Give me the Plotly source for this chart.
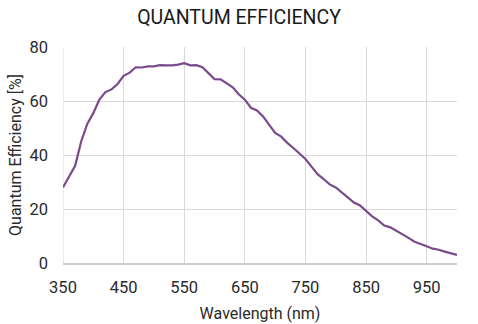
import plotly.graph_objects as go

wavelength = list(range(350, 1001, 10))
qe = [28.0, 32.0, 36.0, 45.0, 51.5, 55.5, 60.5, 63.3, 64.3, 66.3,
      69.3, 70.5, 72.5, 72.4, 72.8, 72.8, 73.3, 73.2, 73.2, 73.5,
      74.0, 73.2, 73.3, 72.5, 70.3, 68.1, 68.0, 66.5, 65.1, 62.5,
      60.5, 57.5, 56.5, 54.3, 51.2, 48.2, 46.8, 44.5, 42.6, 40.5,
      38.5, 35.7, 32.9, 31.1, 29.1, 28.0, 26.1, 24.4, 22.4, 21.3,
      19.3, 17.3, 15.8, 13.9, 13.2, 12.0, 10.7, 9.3, 7.9, 6.9,
      6.2, 5.3, 4.9, 4.2, 3.6, 3.0]
x_ticks = [350, 450, 550, 650, 750, 850, 950]
y_ticks = [0, 20, 40, 60, 80]

font_family = "Roboto, 'DejaVu Sans', sans-serif"
grid_color = "#d9d9d9"
text_color = "#2a2a2a"

fig = go.Figure()
fig.add_trace(go.Scatter(
    x=wavelength, y=qe, mode="lines",
    line=dict(color="#7a4a8c", width=2.2),
    hoverinfo="skip", showlegend=False,
))

fig.update_layout(
    width=478, height=324,
    margin=dict(l=63, r=21, t=47, b=61),
    paper_bgcolor="white", plot_bgcolor="white",
    font=dict(family=font_family, color=text_color),
    title=dict(text="QUANTUM EFFICIENCY", x=0.5, xanchor="center",
               y=1 - 17 / 324, yanchor="middle",
               font=dict(size=19.5, color="#1a1a1a", family=font_family)),
)
fig.update_xaxes(
    range=[350, 1000], tickvals=x_ticks, ticktext=[str(t) for t in x_ticks],
    showgrid=True, gridcolor=grid_color, gridwidth=1,
    showline=True, linecolor="#cccccc", linewidth=1.5,
    zeroline=False, ticks="", ticklabelstandoff=8, automargin=False,
    tickfont=dict(size=16.5, color=text_color),
    title=dict(text="Wavelength (nm)", font=dict(size=16, color=text_color), standoff=12),
)
fig.update_yaxes(
    range=[0, 80], tickvals=y_ticks, ticktext=[str(t) for t in y_ticks],
    showgrid=True, gridcolor=grid_color, gridwidth=1,
    showline=False, zeroline=False, ticks="", ticklabelstandoff=14, automargin=False,
    tickfont=dict(size=16.5, color=text_color),
    title=dict(text="Quantum Efficiency [%]", font=dict(size=16, color=text_color), standoff=3),
)
fig.add_shape(type="line", xref="x", yref="paper", x0=350, x1=350, y0=0, y1=1,
              line=dict(color=grid_color, width=1), layer="below")

fig.write_html("out.html")
